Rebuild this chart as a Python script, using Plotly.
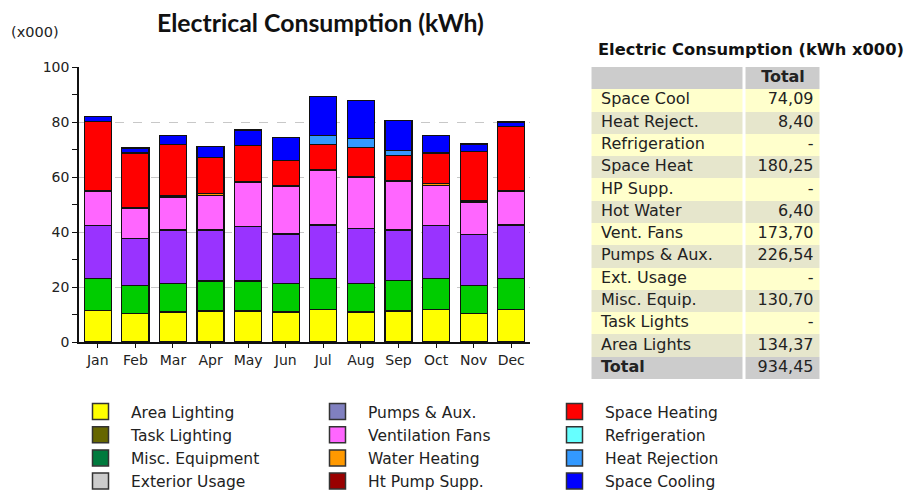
import plotly.graph_objects as go

# page has an 8px body margin: figure is 905x483 drawn at (8, 8)
OFF = 8
W, H = 913 - OFF, 491 - OFF
px = lambda x: (x - OFF) / W
py = lambda y: 1 - (y - OFF) / H

months = ["Jan", "Feb", "Mar", "Apr", "May", "Jun", "Jul", "Aug", "Sep", "Oct", "Nov", "Dec"]

# stacked series (kWh x000), bottom to top
area_lighting = [11.55, 10.35, 10.9, 11.3, 11.3, 10.9, 11.8, 10.9, 11.3, 11.8, 10.35, 11.8]
task_lighting = [0] * 12
misc_equipment = [11.6, 10.2, 10.5, 10.9, 10.9, 10.5, 11.4, 10.5, 11.0, 11.4, 10.2, 11.4]
exterior_usage = [0] * 12
pumps_aux = [19.4, 17.0, 19.4, 18.6, 19.9, 17.9, 19.4, 20.0, 18.5, 19.1, 18.5, 19.4]
ventilation_fans = [12.2, 11.0, 11.9, 12.4, 15.9, 17.3, 19.7, 18.5, 17.6, 14.7, 11.9, 12.2]
water_heating = [0.46, 0.46, 0.46, 1.0, 0.46, 0.46, 0.46, 0.46, 0.46, 0.8, 0.46, 0.46]
ht_pump_supp = [0] * 12
space_heating = [25.0, 19.8, 18.8, 13.0, 13.2, 8.9, 9.0, 10.5, 9.0, 11.0, 17.9, 23.2]
refrigeration = [0] * 12
heat_rejection = [0, 0, 0, 0, 0, 0, 3.3, 3.2, 1.9, 0, 0, 0]
space_cooling = [1.8, 1.8, 3.1, 4.0, 5.5, 8.4, 14.4, 13.9, 11.0, 6.3, 2.8, 1.6]

series_names = ["Area Lighting", "Task Lighting", "Misc. Equipment", "Exterior Usage",
                "Pumps & Aux.", "Ventilation Fans", "Water Heating", "Ht Pump Supp.",
                "Space Heating", "Refrigeration", "Heat Rejection", "Space Cooling"]
series_values = [area_lighting, task_lighting, misc_equipment, exterior_usage,
                 pumps_aux, ventilation_fans, water_heating, ht_pump_supp,
                 space_heating, refrigeration, heat_rejection, space_cooling]
bar_colors = ["#FFFF00", "#666600", "#00CC00", "#CCCCCC",
              "#9933FF", "#FF66FF", "#FF9900", "#990000",
              "#FF0000", "#66FFFF", "#3399FF", "#0000FF"]
legend_colors = ["#FFFF00", "#666600", "#007A3D", "#CCCCCC",
                 "#8080C0", "#FF66FF", "#FF9900", "#990000",
                 "#FF0000", "#66FFFF", "#3399FF", "#0000FF"]
# legend order (row-major, 3 columns)
legend_order = ["Area Lighting", "Pumps & Aux.", "Space Heating",
                "Task Lighting", "Ventilation Fans", "Refrigeration",
                "Misc. Equipment", "Water Heating", "Heat Rejection",
                "Exterior Usage", "Ht Pump Supp.", "Space Cooling"]

# summary table
table_header = "Total"
table_labels = ["Space Cool", "Heat Reject.", "Refrigeration", "Space Heat", "HP Supp.",
                "Hot Water", "Vent. Fans", "Pumps & Aux.", "Ext. Usage", "Misc. Equip.",
                "Task Lights", "Area Lights", "Total"]
table_values = ["74,09", "8,40", "-", "180,25", "-", "6,40", "173,70", "226,54", "-",
                "130,70", "-", "134,37", "934,45"]

FONT = "DejaVu Sans"
TXT = "#222222"

fig = go.Figure()

# ---- stacked bars
for name, vals, col in zip(series_names, series_values, bar_colors):
    fig.add_trace(go.Bar(x=months, y=vals, name=name,
                         marker=dict(color=col, line=dict(color="#111111", width=1.2)),
                         showlegend=False, hoverinfo="x+y+name"))

# ---- legend entries (legend swatch colours differ from bar colours in the original)
for name, col in zip(series_names, legend_colors):
    fig.add_trace(go.Scatter(x=[months[0]], y=[None], mode="markers", name=name,
                             marker=dict(symbol="square", size=16, color=col,
                                         line=dict(color="#333333", width=1.5)),
                             legendrank=legend_order.index(name) + 1, showlegend=True))

# ---- summary table as a heatmap of cell fills + text traces
nrows = len(table_labels) + 1  # + header row
row_idx = list(range(nrows))
fill_code = [0] + [1 if i % 2 == 0 else 2 for i in range(len(table_labels) - 1)] + [0]
z = [[c, c] for c in fill_code]
col_edges = [590.5, 744.5, 821.5]   # table x-axis is in screen pixels
fig.add_trace(go.Heatmap(
    x=col_edges, y=row_idx, z=z, xgap=3, ygap=0,
    zmin=0, zmax=2, colorscale=[[0, "#CCCCCC"], [0.5, "#FFFFCC"], [1, "#E6E6CC"]],
    showscale=False, hoverinfo="skip", xaxis="x2", yaxis="y2"))

label_text = table_labels[:-1] + ["<b>" + table_labels[-1] + "</b>"]
fig.add_trace(go.Scatter(
    x=[601] * len(table_labels), y=row_idx[1:], text=label_text, mode="text",
    textposition="middle right", textfont=dict(family=FONT, size=16, color=TXT),
    hoverinfo="skip", showlegend=False, xaxis="x2", yaxis="y2"))
fig.add_trace(go.Scatter(
    x=[813.5] * len(table_values), y=row_idx[1:], text=table_values, mode="text",
    textposition="middle left", textfont=dict(family=FONT, size=16, color=TXT),
    hoverinfo="skip", showlegend=False, xaxis="x2", yaxis="y2"))
fig.add_trace(go.Scatter(
    x=[(col_edges[1] + col_edges[2]) / 2], y=[0], text=["<b>" + table_header + "</b>"], mode="text",
    textposition="middle center", textfont=dict(family=FONT, size=16, color=TXT),
    hoverinfo="skip", showlegend=False, xaxis="x2", yaxis="y2"))

tbl_top, tbl_bot = 67, 379

fig.update_layout(
    width=W, height=H,
    margin=dict(l=0, r=0, t=0, b=0, autoexpand=False),
    paper_bgcolor="white", plot_bgcolor="white",
    barmode="stack", bargap=0.28,
    font=dict(family=FONT, size=14, color=TXT),
    xaxis=dict(domain=[px(79), px(530)], type="category", categoryarray=months,
               range=[-0.5, 11.5], showline=True, linecolor="#111111", linewidth=1.5,
               ticks="outside", ticklen=4, tickcolor="#111111", showgrid=False,
               tickfont=dict(family=FONT, size=14, color=TXT)),
    yaxis=dict(domain=[py(342), py(67.3)], range=[0, 100], tickvals=[0, 20, 40, 60, 80, 100],
               showline=True, linecolor="#111111", linewidth=1.5,
               ticks="outside", ticklen=5, tickcolor="#111111",
               minor=dict(tickvals=[10, 30, 50, 70, 90], ticks="outside", ticklen=5,
                          tickcolor="#111111", showgrid=False),
               showgrid=True, gridcolor="#C8C8C8", griddash="dash", gridwidth=1, zeroline=False,
               tickfont=dict(family=FONT, size=14, color=TXT)),
    xaxis2=dict(domain=[px(col_edges[0]), px(col_edges[2])], range=[col_edges[0], col_edges[2]],
                anchor="y2", visible=False, fixedrange=True),
    yaxis2=dict(domain=[py(tbl_bot), py(tbl_top)], range=[nrows - 0.5, -0.5],
                anchor="x2", visible=False, fixedrange=True),
    legend=dict(orientation="h", x=px(70), xanchor="left", y=py(395), yanchor="top",
                entrywidth=171, entrywidthmode="pixels", itemwidth=51, traceorder="normal",
                font=dict(family=FONT, size=15.5, color=TXT), tracegroupgap=0, itemclick=False),
    annotations=[
        dict(text="<b>Electrical Consumption (kWh)</b>", x=px(320), y=py(22), xref="paper", yref="paper",
             showarrow=False, xanchor="center", yanchor="middle",
             font=dict(family="Lato", size=24.8, color="#111111")),
        dict(text="(x000)", x=px(9), y=py(32), xref="paper", yref="paper", showarrow=False,
             xanchor="left", yanchor="middle", font=dict(family=FONT, size=14.5, color=TXT)),
        dict(text="<b>Electric Consumption (kWh x000)</b>", x=px(596), y=py(50), xref="paper", yref="paper",
             showarrow=False, xanchor="left", yanchor="middle",
             font=dict(family=FONT, size=16.3, color="#111111")),
    ],
)

fig.write_html("out.html")
